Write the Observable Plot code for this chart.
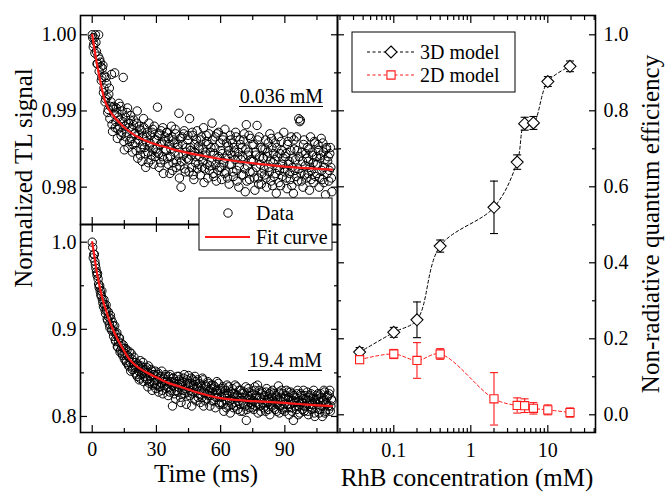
<!DOCTYPE html>
<html><head><meta charset="utf-8">
<script src="https://cdn.jsdelivr.net/npm/d3@7"></script>
<script src="https://cdn.jsdelivr.net/npm/@observablehq/plot@0.6"></script>
<style>
body{margin:0;background:#fff;}
#chart{position:relative;width:668px;height:492px;}
#chart svg{position:absolute;left:0;top:0;}
</style></head><body><div id="chart"></div>
<script>
// ---------- data ----------
const tStep = 0.5;     // ms between samples of each series
const tOffsetB = 0.25; // second (interleaved) sample set starts here
// 0.036 mM signal, samples at t = 0, 0.5, 1, ...
const signalLow = [
1.0000,0.9984,0.9996,1.0000,0.9978,0.9962,1.0000,0.9968,0.9958,0.9944,
0.9960,0.9930,0.9912,0.9944,0.9918,0.9902,0.9930,0.9906,0.9948,0.9873,
0.9906,0.9950,0.9886,0.9898,0.9876,0.9910,0.9888,0.9868,0.9900,0.9944,
0.9849,0.9892,0.9872,0.9904,0.9884,0.9860,0.9894,0.9876,0.9856,0.9888,
0.9870,0.9848,0.9900,0.9862,0.9880,0.9842,0.9874,0.9856,0.9890,0.9852,
0.9826,0.9866,0.9846,0.9884,0.9858,0.9836,0.9872,0.9850,0.9880,0.9840,
0.9862,0.9905,0.9844,0.9870,0.9832,0.9858,0.9878,0.9836,0.9866,0.9848,
0.9872,0.9830,0.9856,0.9840,0.9880,0.9822,0.9862,0.9846,0.9870,0.9834,
0.9856,0.9897,0.9828,0.9800,0.9866,0.9842,0.9874,0.9820,0.9852,0.9862,
0.9836,0.9890,0.9848,0.9826,0.9868,0.9810,0.9856,0.9840,0.9874,0.9830,
0.9850,0.9816,0.9866,0.9834,0.9878,0.9824,0.9846,0.9860,0.9812,0.9870,
0.9828,0.9852,0.9884,0.9818,0.9844,0.9866,0.9808,0.9838,0.9872,0.9826,
0.9848,0.9810,0.9862,0.9832,0.9876,0.9820,0.9842,0.9854,0.9804,0.9868,
0.9830,0.9858,0.9814,0.9846,0.9872,0.9822,0.9840,0.9800,0.9862,0.9836,
0.9852,0.9816,0.9870,0.9794,0.9882,0.9828,0.9846,0.9810,0.9864,0.9834,
0.9820,0.9856,0.9796,0.9842,0.9881,0.9812,0.9866,0.9830,0.9804,0.9850,
0.9838,0.9816,0.9862,0.9800,0.9846,0.9826,0.9870,0.9808,0.9852,0.9832,
0.9814,0.9858,0.9792,0.9840,0.9866,0.9822,0.9802,0.9848,0.9830,0.9872,
0.9820,0.9844,0.9798,0.9860,0.9834,0.9810,0.9866,0.9826,0.9792,0.9850,
0.9836,0.9866,0.9808,0.9890,0.9886,0.9818,0.9846,0.9800,0.9862,0.9828,
0.9812,0.9852,0.9834,0.9796,0.9866,0.9822,0.9842,0.9806,0.9858,0.9830,
0.9818,0.9856,0.9800,0.9838,0.9864,0.9810,0.9846,0.9826,0.9790,0.9852,
0.9834,0.9808,0.9844,0.9826,0.9794];
// 0.036 mM signal, samples at t = 0.25, 0.75, 1.25, ...
const signalLowB = [
0.9996,0.9988,0.9976,0.9990,0.9962,0.9972,0.9952,0.9964,0.9940,0.9956,
0.9924,0.9946,0.9916,0.9936,0.9898,0.9922,0.9890,0.9912,0.9882,0.9904,
0.9896,0.9878,0.9904,0.9864,0.9892,0.9880,0.9906,0.9872,0.9886,0.9860,
0.9880,0.9866,0.9898,0.9852,0.9878,0.9888,0.9864,0.9846,0.9882,0.9870,
0.9858,0.9884,0.9838,0.9868,0.9876,0.9850,0.9834,0.9866,0.9878,0.9844,
0.9860,0.9872,0.9832,0.9854,0.9868,0.9842,0.9876,0.9830,0.9862,0.9850,
0.9846,0.9868,0.9826,0.9856,0.9874,0.9840,0.9818,0.9860,0.9850,0.9872,
0.9838,0.9864,0.9818,0.9850,0.9866,0.9832,0.9858,0.9876,0.9826,0.9852,
0.9842,0.9812,0.9864,0.9834,0.9856,0.9870,0.9824,0.9846,0.9838,0.9868,
0.9820,0.9852,0.9842,0.9872,0.9816,0.9846,0.9832,0.9862,0.9824,0.9854,
0.9840,0.9862,0.9826,0.9850,0.9806,0.9842,0.9868,0.9830,0.9856,0.9822,
0.9846,0.9834,0.9862,0.9814,0.9852,0.9830,0.9870,0.9822,0.9840,0.9858,
0.9826,0.9844,0.9866,0.9818,0.9838,0.9858,0.9812,0.9848,0.9830,0.9862,
0.9842,0.9820,0.9852,0.9836,0.9866,0.9808,0.9846,0.9828,0.9856,0.9816,
0.9840,0.9862,0.9824,0.9850,0.9808,0.9842,0.9868,0.9820,0.9836,0.9856,
0.9834,0.9812,0.9846,0.9826,0.9862,0.9804,0.9840,0.9852,0.9818,0.9838,
0.9824,0.9850,0.9812,0.9840,0.9858,0.9820,0.9834,0.9864,0.9802,0.9844,
0.9836,0.9818,0.9852,0.9826,0.9806,0.9844,0.9860,0.9814,0.9838,0.9824,
0.9840,0.9812,0.9856,0.9830,0.9818,0.9848,0.9802,0.9838,0.9862,0.9822,
0.9814,0.9848,0.9824,0.9840,0.9888,0.9808,0.9834,0.9856,0.9816,0.9844,
0.9838,0.9818,0.9850,0.9826,0.9810,0.9846,0.9832,0.9860,0.9814,0.9840,
0.9830,0.9848,0.9812,0.9842,0.9822,0.9858,0.9806,0.9836,0.9850,0.9818,
0.9840,0.9822,0.9852,0.9812];
// 19.4 mM signal, samples at t = 0, 0.5, 1, ...
const signalHigh = [
1.000,0.982,0.986,0.974,0.966,0.964,0.952,0.950,0.940,0.944,
0.930,0.934,0.922,0.928,0.912,0.920,0.906,0.916,0.900,0.908,
0.892,0.904,0.886,0.896,0.880,0.890,0.874,0.884,0.872,0.882,
0.866,0.878,0.862,0.870,0.858,0.874,0.852,0.866,0.856,0.868,
0.850,0.862,0.846,0.858,0.842,0.864,0.848,0.856,0.840,0.852,
0.844,0.856,0.834,0.850,0.840,0.854,0.830,0.848,0.838,0.852,
0.836,0.848,0.828,0.844,0.834,0.852,0.826,0.840,0.846,0.832,
0.842,0.824,0.838,0.848,0.830,0.812,0.844,0.834,0.820,0.840,
0.828,0.846,0.836,0.816,0.840,0.826,0.848,0.832,0.814,0.838,
0.847,0.824,0.836,0.812,0.842,0.828,0.846,0.818,0.834,0.822,
0.838,0.816,0.830,0.844,0.812,0.826,0.836,0.820,0.840,0.824,
0.812,0.832,0.818,0.836,0.826,0.810,0.830,0.822,0.838,0.814,
0.828,0.816,0.834,0.806,0.824,0.818,0.836,0.812,0.826,0.804,
0.820,0.832,0.810,0.826,0.816,0.834,0.808,0.822,0.814,0.830,
0.818,0.806,0.828,0.812,0.7955,0.824,0.832,0.810,0.820,0.814,
0.826,0.808,0.834,0.816,0.822,0.804,0.830,0.812,0.820,0.828,
0.810,0.824,0.806,0.832,0.816,0.820,0.802,0.828,0.812,0.818,
0.826,0.808,0.822,0.814,0.835,0.804,0.818,0.830,0.810,0.820,
0.806,0.824,0.814,0.828,0.802,0.818,0.810,0.826,0.7955,0.816,
0.822,0.808,0.830,0.812,0.804,0.826,0.816,0.820,0.806,0.824,
0.812,0.828,0.802,0.818,0.824,0.808,0.814,0.830,0.800,0.820,
0.810,0.826,0.804,0.816,0.822,0.800,0.818,0.828,0.806,0.814,
0.824,0.808,0.830,0.812,0.818];
// 19.4 mM signal, samples at t = 0.25, 0.75, 1.25, ...
const signalHighB = [
0.994,0.986,0.978,0.970,0.962,0.958,0.948,0.944,0.938,0.934,
0.926,0.928,0.918,0.922,0.910,0.914,0.902,0.912,0.898,0.904,
0.898,0.888,0.894,0.880,0.886,0.890,0.876,0.880,0.870,0.878,
0.872,0.864,0.876,0.860,0.868,0.862,0.872,0.854,0.862,0.858,
0.856,0.848,0.860,0.852,0.844,0.858,0.850,0.862,0.846,0.854,
0.850,0.842,0.858,0.838,0.846,0.852,0.836,0.848,0.842,0.832,
0.842,0.850,0.834,0.846,0.838,0.830,0.844,0.836,0.848,0.840,
0.834,0.846,0.828,0.840,0.836,0.844,0.826,0.838,0.830,0.846,
0.834,0.842,0.822,0.838,0.830,0.844,0.826,0.836,0.842,0.828,
0.838,0.830,0.844,0.826,0.836,0.820,0.840,0.832,0.842,0.826,
0.830,0.836,0.822,0.842,0.828,0.818,0.834,0.826,0.838,0.830,
0.824,0.836,0.828,0.818,0.834,0.822,0.840,0.826,0.816,0.830,
0.822,0.832,0.814,0.826,0.830,0.810,0.824,0.834,0.818,0.828,
0.814,0.826,0.822,0.836,0.812,0.824,0.818,0.830,0.806,0.822,
0.826,0.814,0.822,0.834,0.808,0.820,0.828,0.816,0.824,0.810,
0.818,0.830,0.812,0.824,0.836,0.814,0.822,0.806,0.826,0.816,
0.822,0.812,0.828,0.818,0.808,0.826,0.814,0.822,0.830,0.810,
0.816,0.824,0.806,0.820,0.828,0.812,0.822,0.808,0.826,0.814,
0.820,0.830,0.810,0.822,0.814,0.828,0.806,0.818,0.824,0.812,
0.816,0.826,0.802,0.818,0.814,0.824,0.808,0.830,0.812,0.820,
0.818,0.806,0.822,0.814,0.826,0.810,0.820,0.804,0.816,0.824,
0.814,0.820,0.808,0.826,0.812,0.818,0.830,0.804,0.816,0.822,
0.812,0.826,0.806,0.820];
const fitTimesLow = [0,1,2,3,4,5,6,8,10,12,14,16,20,25,30,35,40,50,60,70,80,90,100,112];
const fitLow = [1.0000,0.9982,0.9965,0.9950,0.9936,0.9923,0.9913,0.9901,0.9893,0.9887,0.9881,0.9876,0.9868,0.9861,0.9856,0.9852,0.9848,0.9842,0.9837,0.9833,0.9830,0.9827,0.9825,0.9823];
const fitTimesHigh = [0,1,2,3,4,5,6,8,10,12,14,17,20,25,30,36,40,50,60,70,80,90,100,112];
const fitHigh = [1.000,0.984,0.968,0.955,0.943,0.933,0.925,0.910,0.898,0.888,0.879,0.867,0.859,0.851,0.845,0.838,0.835,0.827,0.821,0.8185,0.817,0.8157,0.8135,0.8118];

const concentrations = [0.036, 0.1, 0.2, 0.4, 2, 4, 5, 6.5, 10, 19.4];
const eff3D = [0.165, 0.217, 0.250, 0.444, 0.546, 0.665, 0.766, 0.768, 0.877, 0.917];
const err3D = [0.012, 0.013, 0.047, 0.016, 0.069, 0.019, 0.017, 0.017, 0.013, 0.014];
const eff2D = [0.145, 0.160, 0.143, 0.160, 0.042, 0.0245, 0.024, 0.017, 0.013, 0.006];
const err2D = [0.010, 0.012, 0.047, 0.014, 0.069, 0.020, 0.018, 0.015, 0.013, 0.012];

const timeMajor = [0, 30, 60, 90], timeMinor = [15, 45, 75, 105];
const lowMajor = [0.98, 0.99, 1.00], lowMinor = [0.985, 0.995];
const highMajor = [0.8, 0.9, 1.0], highMinor = [0.85, 0.95];
const effMajor = [0, 0.2, 0.4, 0.6, 0.8, 1.0], effMinor = [0.1, 0.3, 0.5, 0.7, 0.9];
const concMajor = [0.1, 1, 10];
const concMinor = [0.02,0.03,0.04,0.05,0.06,0.07,0.08,0.09,0.2,0.3,0.4,0.5,0.6,0.7,0.8,0.9,2,3,4,5,6,7,8,9,20,30,40];

// ---------- helpers ----------
const W = 668, H = 492;
const serif = '"Liberation Serif", "Times New Roman", Times, serif';
const RED = "#ff1a1a";
const style = {fontFamily: serif, fontSize: "20px", background: "transparent", overflow: "visible", color: "black"};
const tk = {stroke: "black", strokeWidth: 1.2, fill: "none", label: null};
const lab = {tickSize: 0, label: null, fontFamily: serif, fontSize: 20, fill: "black"};

function ticksX(major, minor) {
  return ["top", "bottom"].flatMap(anchor => [
    Plot.axisX({anchor, ticks: major, tickSize: -7, ...tk}),
    Plot.axisX({anchor, ticks: minor, tickSize: -4, ...tk})
  ]);
}
function ticksY(major, minor) {
  return ["left", "right"].flatMap(anchor => [
    Plot.axisY({anchor, ticks: major, tickSize: -7, ...tk}),
    Plot.axisY({anchor, ticks: minor, tickSize: -4, ...tk})
  ]);
}
const frame = Plot.frame({stroke: "black", strokeWidth: 1.6});

const toPts = (a, b) => [
  ...a.map((v, i) => ({t: i * tStep, v})),
  ...b.map((v, i) => ({t: tOffsetB + i * tStep, v}))
];
const lowPts = toPts(signalLow, signalLowB);
const highPts = toPts(signalHigh, signalHighB);
const lowFit = fitTimesLow.map((t, i) => ({t, v: fitLow[i]}));
const highFit = fitTimesHigh.map((t, i) => ({t, v: fitHigh[i]}));
const model = concentrations.map((c, i) => ({c, v3: eff3D[i], e3: err3D[i], v2: eff2D[i], e2: err2D[i]}));

const capSymbol = {draw(ctx) { ctx.moveTo(-4, 0); ctx.lineTo(4, 0); }};

const chart = document.getElementById("chart");

// top-left panel
const pTop = Plot.plot({
  width: W, height: H, style,
  marginLeft: 80, marginRight: 331, marginTop: 15, marginBottom: 268,
  x: {domain: [-5.47, 114.6]},
  y: {domain: [0.9751, 1.00253]},
  marks: [
    Plot.dot(lowPts, {x: "t", y: "v", r: 4.2, stroke: "black", strokeWidth: 1, fill: "none"}),
    Plot.line(lowFit, {x: "t", y: "v", stroke: RED, strokeWidth: 2.2, curve: "monotone-x"}),
    ...ticksX(timeMajor, timeMinor),
    ...ticksY(lowMajor, lowMinor),
    Plot.axisY({anchor: "left", ticks: lowMajor, tickPadding: 4, tickFormat: d3.format(".2f"), ...lab}),
    frame
  ]
});
// bottom-left panel
const pBottom = Plot.plot({
  width: W, height: H, style,
  marginLeft: 80, marginRight: 331, marginTop: 224, marginBottom: 60,
  x: {domain: [-5.47, 114.6]},
  y: {domain: [0.7816, 1.0203]},
  marks: [
    Plot.dot(highPts, {x: "t", y: "v", r: 4.2, stroke: "black", strokeWidth: 1, fill: "none"}),
    Plot.line(highFit, {x: "t", y: "v", stroke: RED, strokeWidth: 2.2, curve: "monotone-x"}),
    ...ticksX(timeMajor, timeMinor),
    ...ticksY(highMajor, highMinor),
    Plot.axisY({anchor: "left", ticks: highMajor, tickPadding: 4, tickFormat: d3.format(".1f"), ...lab}),
    Plot.axisX({anchor: "bottom", ticks: timeMajor, tickPadding: 9, tickFormat: d => String(d), ...lab}),
    frame
  ]
});
// right panel
const pRight = Plot.plot({
  width: W, height: H, style,
  marginLeft: 337, marginRight: 73, marginTop: 15, marginBottom: 60,
  x: {type: "log", domain: [0.01858, 41.6]},
  y: {domain: [-0.0466, 1.0508]},
  marks: [
    Plot.line(model, {x: "c", y: "v3", stroke: "black", strokeWidth: 1, strokeDasharray: "3,2.5", curve: "catmull-rom"}),
    Plot.line(model, {x: "c", y: "v2", stroke: RED, strokeWidth: 1, strokeDasharray: "3,2.5", curve: "catmull-rom"}),
    Plot.ruleX(model, {x: "c", y1: d => d.v3 - d.e3, y2: d => d.v3 + d.e3, stroke: "black", strokeWidth: 1.1}),
    Plot.dot(model, {x: "c", y: d => d.v3 - d.e3, symbol: capSymbol, stroke: "black", strokeWidth: 1.1}),
    Plot.dot(model, {x: "c", y: d => d.v3 + d.e3, symbol: capSymbol, stroke: "black", strokeWidth: 1.1}),
    Plot.ruleX(model, {x: "c", y1: d => d.v2 - d.e2, y2: d => d.v2 + d.e2, stroke: RED, strokeWidth: 1.1}),
    Plot.dot(model, {x: "c", y: d => d.v2 - d.e2, symbol: capSymbol, stroke: RED, strokeWidth: 1.1}),
    Plot.dot(model, {x: "c", y: d => d.v2 + d.e2, symbol: capSymbol, stroke: RED, strokeWidth: 1.1}),
    Plot.dot(model, {x: "c", y: "v3", symbol: "diamond2", r: 5.4, stroke: "black", strokeWidth: 1.1, fill: "white"}),
    Plot.dot(model, {x: "c", y: "v2", symbol: "square2", r: 5.2, stroke: RED, strokeWidth: 1.1, fill: "white"}),
    ...ticksX(concMajor, concMinor),
    ...ticksY(effMajor, effMinor),
    Plot.axisY({anchor: "right", ticks: effMajor, tickPadding: 8, tickFormat: d3.format(".1f"), ...lab}),
    Plot.axisX({anchor: "bottom", ticks: concMajor, tickPadding: 10, tickFormat: d => String(d), ...lab}),
    frame
  ]
});
chart.append(pTop, pBottom, pRight);

// ---------- overlay: titles, legends, annotations ----------
const ov = d3.select(chart).append("svg")
  .attr("width", W).attr("height", H)
  .style("font-family", serif);

const txt = (s, x, y, size, anchor = "start", rot = 0) =>
  ov.append("text").attr("transform", `translate(${x},${y})` + (rot ? ` rotate(${rot})` : ""))
    .attr("text-anchor", anchor).attr("font-size", size).attr("fill", "black").text(s);

txt("Normalized TL signal", 32, 178, 25, "middle", -90);
txt("Non-radiative quantum efficiency", 659, 224, 25, "middle", -90);
txt("Time (ms)", 206, 482, 25, "middle");
txt("RhB concentration (mM)", 467, 486, 25, "middle");

// panel annotations
txt("0.036 mM", 323, 103, 20, "end");
ov.append("line").attr("x1", 239).attr("x2", 323).attr("y1", 106.5).attr("y2", 106.5).attr("stroke", "black").attr("stroke-width", 1.2);
txt("19.4 mM", 322, 367, 20, "end");
ov.append("line").attr("x1", 248).attr("x2", 322).attr("y1", 370.5).attr("y2", 370.5).attr("stroke", "black").attr("stroke-width", 1.2);

// left legend
ov.append("rect").attr("x", 199).attr("y", 198).attr("width", 133).attr("height", 52)
  .attr("fill", "white").attr("stroke", "black").attr("stroke-width", 1);
ov.append("circle").attr("cx", 228).attr("cy", 213).attr("r", 4.2).attr("fill", "none").attr("stroke", "black");
txt("Data", 256, 220, 20);
ov.append("line").attr("x1", 205).attr("x2", 250).attr("y1", 237).attr("y2", 237).attr("stroke", RED).attr("stroke-width", 2.2);
txt("Fit curve", 256, 244, 20);

// right legend
ov.append("rect").attr("x", 352).attr("y", 32).attr("width", 163).attr("height", 60)
  .attr("fill", "white").attr("stroke", "black").attr("stroke-width", 1);
const sym = (type, r) => d3.symbol(type, r * r * Math.PI)();
[[52, "black", d3.symbolDiamond2, 5.4, "3D model"], [75, RED, d3.symbolSquare2, 5.2, "2D model"]].forEach(([y, c, s, r, label]) => {
  ov.append("line").attr("x1", 367).attr("x2", 416).attr("y1", y).attr("y2", y)
    .attr("stroke", c).attr("stroke-width", 1).attr("stroke-dasharray", "3,2.5");
  ov.append("path").attr("d", sym(s, r)).attr("transform", `translate(391,${y})`)
    .attr("fill", "white").attr("stroke", c).attr("stroke-width", 1.1);
  txt(label, 420, y + 7, 20);
});
</script></body></html>
